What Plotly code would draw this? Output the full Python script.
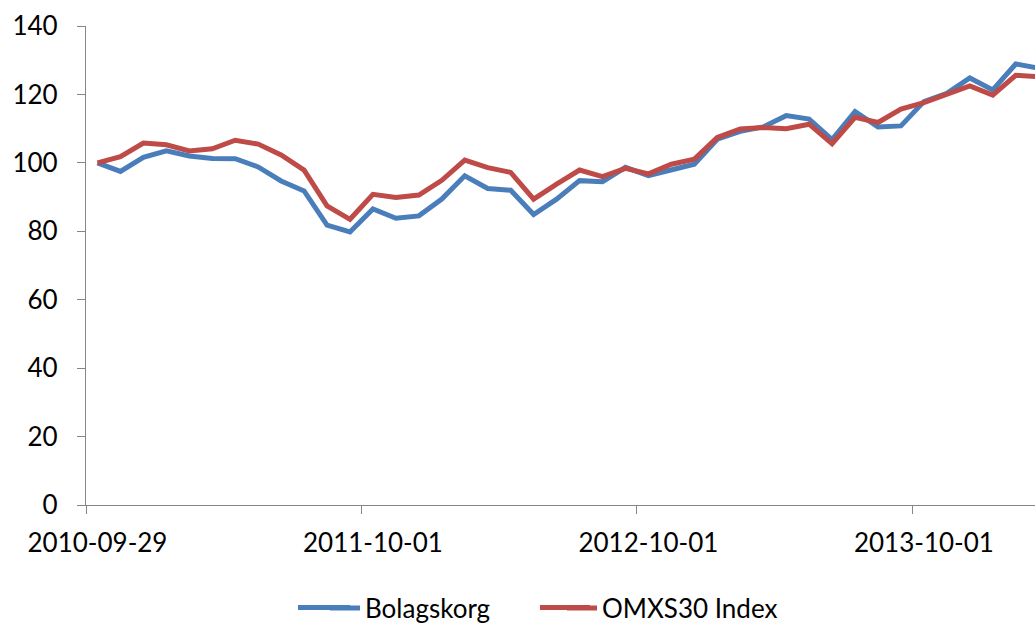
import plotly.graph_objects as go

# Monthly observations (category index 0..41), tick labels every 12 months
dates = ["2010-09-29"] + [f"{2010 + (9 + m) // 12}-{(9 + m) % 12 + 1:02d}-01" for m in range(1, 42)]
tick_labels = ["2010-09-29", "2011-10-01", "2012-10-01", "2013-10-01"]
tick_index = [0, 12, 24, 36]

bolagskorg = [100.0, 97.5, 101.6, 103.5, 102.0, 101.3, 101.2, 98.8, 94.7, 91.8,
              81.8, 79.8, 86.5, 83.8, 84.5, 89.4, 96.2, 92.5, 92.0, 84.9,
              89.4, 94.8, 94.5, 98.7, 96.3, 98.1, 99.6, 106.9, 109.2, 110.5,
              113.8, 112.8, 106.8, 115.0, 110.5, 110.8, 117.9, 120.3, 124.8, 121.3,
              128.9, 127.7]
omxs30 = [100.0, 101.8, 105.8, 105.3, 103.5, 104.1, 106.6, 105.5, 102.3, 97.9,
          87.4, 83.5, 90.8, 89.9, 90.6, 94.9, 100.8, 98.6, 97.2, 89.4,
          93.8, 97.9, 96.0, 98.4, 96.8, 99.6, 101.1, 107.4, 109.9, 110.3,
          110.0, 111.3, 105.6, 113.3, 111.8, 115.7, 117.6, 120.1, 122.5, 119.8,
          125.6, 125.2]

blue = "#4A7EBB"
red = "#BE4B48"
x = list(range(len(dates)))
font = "Lato, 'Open Sans', sans-serif"
axis_color = "#868686"

W, H = 1035, 623
ML, MR, MT, MB = 86, 0, 26, 118
PW, PH = W - ML - MR, H - MT - MB


def px_x(p):
    return (p - ML) / PW


def px_y(p):
    return (H - MB - p) / PH


fig = go.Figure()
fig.add_trace(go.Scatter(x=x, y=bolagskorg, mode="lines", name="Bolagskorg",
                         line=dict(color=blue, width=5), customdata=dates))
fig.add_trace(go.Scatter(x=x, y=omxs30, mode="lines", name="OMXS30 Index",
                         line=dict(color=red, width=5), customdata=dates))

legend_y = 608
# lengthen the legend line samples (Excel-style long keys)
for x0, x1, col in [(298, 350, blue), (540, 590, red)]:
    fig.add_shape(type="line", xref="paper", yref="paper",
                  x0=px_x(x0), x1=px_x(x1), y0=px_y(legend_y - 0.5), y1=px_y(legend_y - 0.5),
                  line=dict(color=col, width=5), layer="above")

fig.update_layout(
    width=W, height=H,
    margin=dict(l=ML, r=MR, t=MT, b=MB, autoexpand=False),
    plot_bgcolor="white", paper_bgcolor="white",
    font=dict(family=font, size=26, color="#000000"),
    showlegend=True,
    legend=dict(orientation="h", x=px_x(325), xanchor="left", y=px_y(legend_y), yanchor="middle",
                bgcolor="rgba(0,0,0,0)", borderwidth=0,
                font=dict(size=26), entrywidth=192, entrywidthmode="pixels", tracegroupgap=0),
    xaxis=dict(
        range=[-0.5, 40.84], automargin=False,
        tickmode="array", tickvals=tick_index, ticktext=tick_labels,
        ticks="", ticklabelstandoff=15,
        showgrid=False, zeroline=False,
        showline=True, linecolor=axis_color, linewidth=1.3,
        minor=dict(tickmode="linear", tick0=-0.5, dtick=12, ticks="outside",
                   ticklen=8, tickcolor=axis_color, tickwidth=1.3, showgrid=False),
    ),
    yaxis=dict(
        range=[0, 140], tickmode="linear", tick0=0, dtick=20, automargin=False,
        ticks="outside", ticklen=8, tickcolor=axis_color, tickwidth=1.3,
        ticklabelstandoff=14,
        showgrid=False, zeroline=False,
        showline=True, linecolor=axis_color, linewidth=1.3,
    ),
)

fig.write_html("out.html", config={"displayModeBar": False},
               post_script="document.body.style.margin='0';document.body.style.overflow='hidden';")
